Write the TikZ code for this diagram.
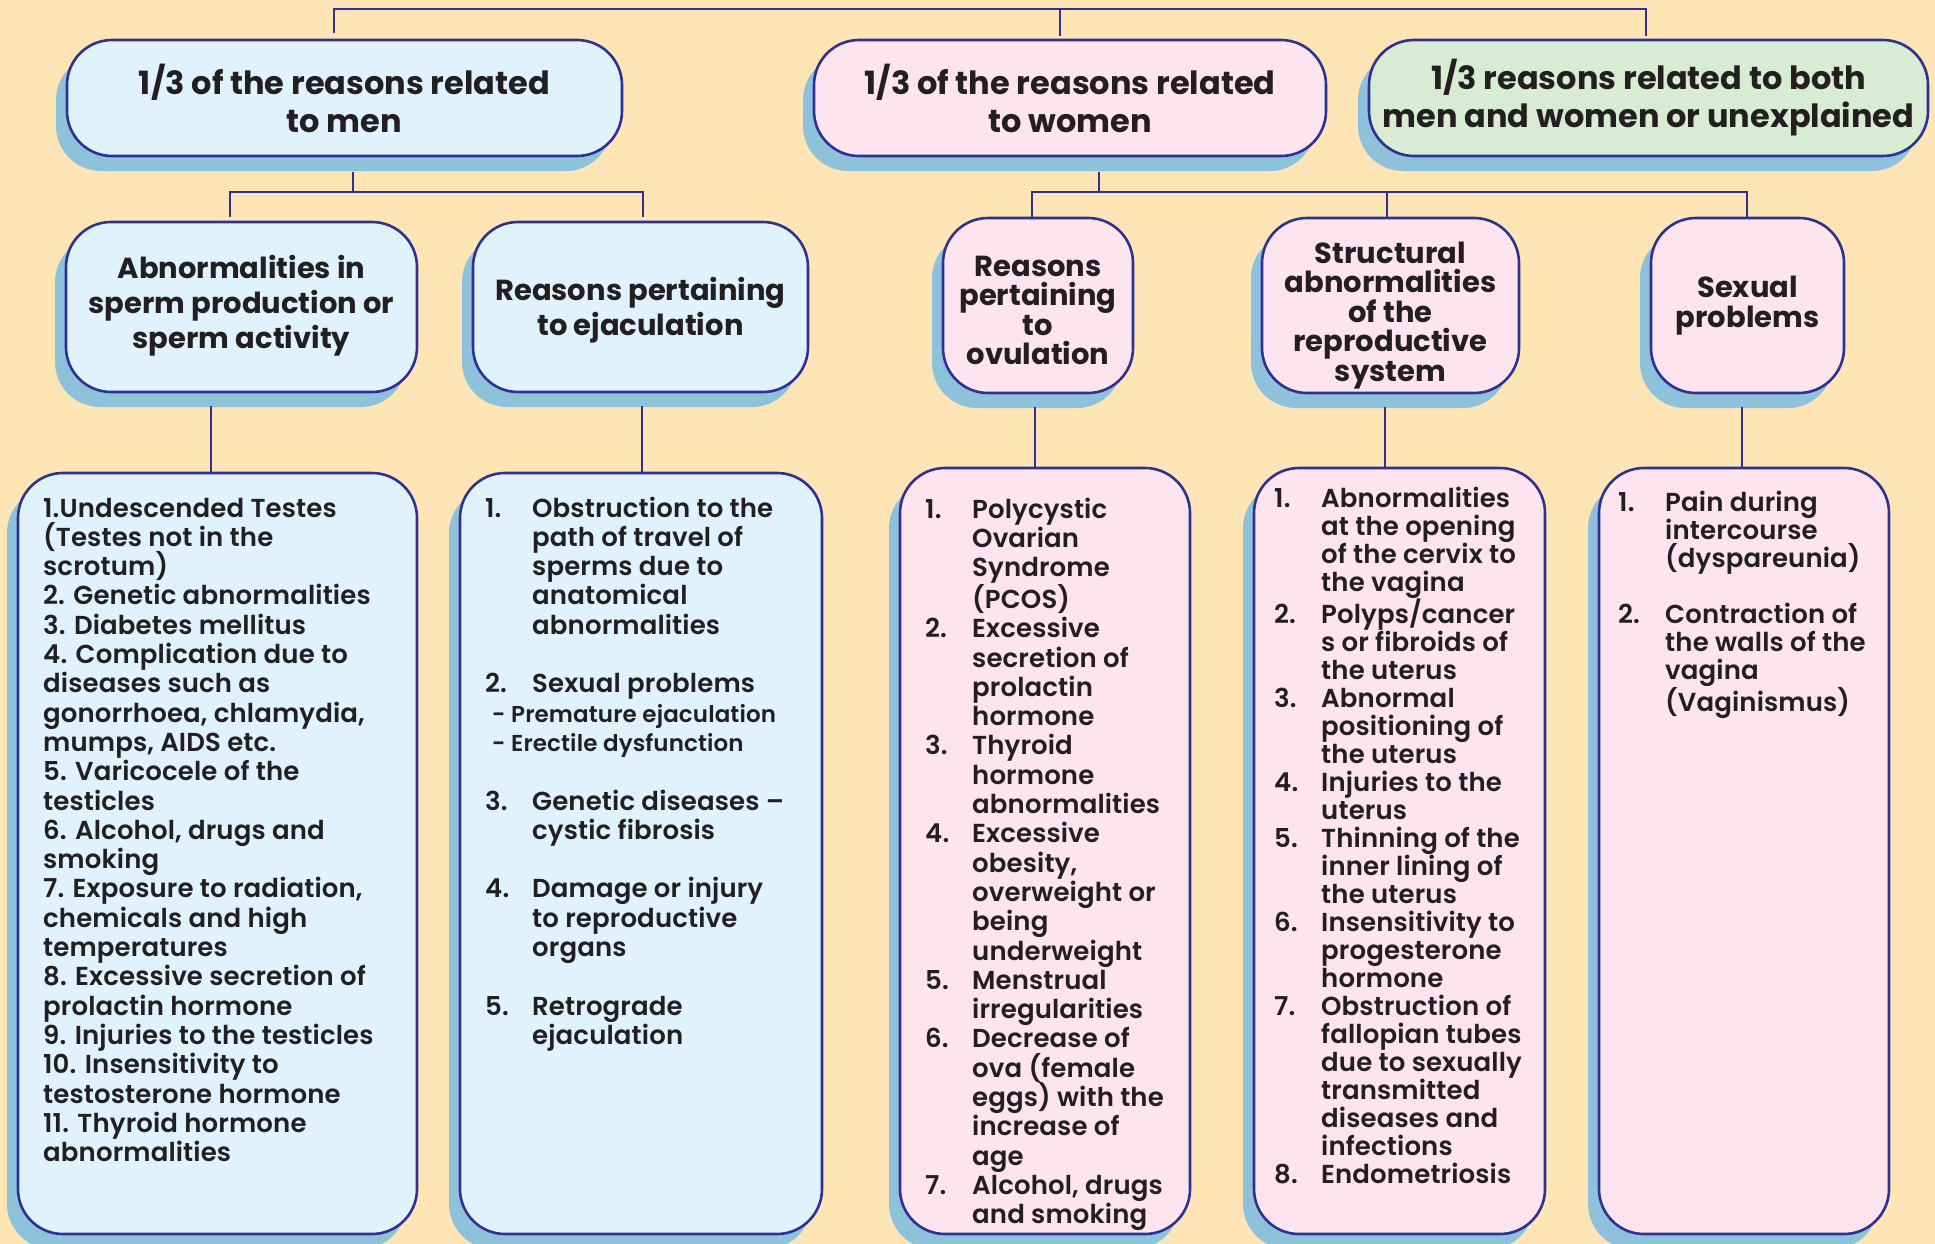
\documentclass[tikz,border=0pt]{standalone}
\usepackage{fontspec}
\setmainfont{Poppins}
\IfFontExistsTF{Poppins SemiBold}
  {\newfontfamily\bodyfont{Poppins SemiBold}[LetterSpace=0.5]}
  {\IfFontExistsTF{Poppins Medium}
    {\newfontfamily\bodyfont{Poppins Medium}[LetterSpace=2,FakeBold=0.8]}
    {\newfontfamily\bodyfont{Poppins}[FakeBold=1.5,LetterSpace=2]}}
\usetikzlibrary{shadows}
\definecolor{bgc}{HTML}{FFE4B5}
\definecolor{bluef}{HTML}{E0F3FD}
\definecolor{pinkf}{HTML}{FDE4EF}
\definecolor{greenf}{HTML}{D8ECD4}
\definecolor{navy}{HTML}{2E3192}
\definecolor{shadowc}{HTML}{8EC1DA}
\definecolor{ink}{HTML}{231F20}
\newlength\numw
\setlength\numw{47pt}
\newcommand\nitem[2]{\makebox[\numw][l]{#1}#2}
\newcommand\ncont[1]{\hspace*{\numw}#1}
\tikzset{
  box/.style={draw=navy, line width=2.6pt, rounded corners=45pt, inner sep=0pt,
    align=center, text=ink,
    drop shadow={shadow xshift=-11pt, shadow yshift=-15pt, fill=shadowc, opacity=1}},
  topbox/.style={box, minimum height=116pt, font=\bfseries\fontsize{32}{38}\selectfont},
  midbox/.style={box, minimum height=170pt},
  midboxw/.style={box, minimum height=175pt},
  hdr/.style={inner sep=0pt, align=center, text=ink, font=\bfseries\fontsize{29}{35}\selectfont},
  hdrw/.style={inner sep=0pt, align=center, text=ink, font=\bfseries\fontsize{29}{29.5}\selectfont},
  listbox/.style={box},
  conn/.style={draw=navy, line width=2.6pt},
  listtext/.style={anchor=base west, inner sep=0pt, text=ink}
}
\begin{document}
\begin{tikzpicture}[x=1pt,y=-1pt]
\useasboundingbox (0,0) rectangle (1935,1244);
\clip (0,0) rectangle (1935,1244);
\fill[bgc] (0,0) rectangle (1935,1244);

% level 1
\node[topbox, fill=bluef, minimum width=555pt] (men) at (344.5,98) {1/3 of the reasons related\\to men};
\node[topbox, fill=pinkf, minimum width=512pt] (women) at (1070,98) {1/3 of the reasons related\\to women};
\node[topbox, fill=greenf, minimum width=559pt] (both) at (1648.5,98) {1/3 reasons related to both\\men and women or unexplained};

% level 2
\node[midbox, fill=bluef, minimum width=351pt] (abn) at (241.5,307) {};
\node[midbox, fill=bluef, minimum width=335pt] (ejac) at (640.5,307) {};
\node[midboxw, fill=pinkf, minimum width=190pt] (ovu) at (1038,305.5) {};
\node[midboxw, fill=pinkf, minimum width=257pt] (struct) at (1390.5,305.5) {};
\node[midboxw, fill=pinkf, minimum width=193pt] (sex) at (1747.5,305.5) {};
\node[hdr] (abnT) at (241.5,305.6) {Abnormalities in\\sperm production or\\sperm activity};
\node[hdr] (ejacT) at (640.5,310) {Reasons pertaining\\to ejaculation};
\node[hdrw] (ovuT) at (1038,310.4) {Reasons\\pertaining\\to\\ovulation};
\node[hdrw] (structT) at (1390.5,315.5) {Structural\\abnormalities\\of the\\reproductive\\system};
\node[hdrw] (sexT) at (1747.5,305.5) {Sexual\\problems};

% level 3 boxes
\node[listbox, fill=bluef, minimum width=399pt, minimum height=761pt] (b1) at (217.5,853.5) {};
\node[listbox, fill=bluef, minimum width=362pt, minimum height=761pt] (b2) at (641,853.5) {};
\node[listbox, fill=pinkf, minimum width=290pt, minimum height=766pt] (b3) at (1045,851) {};
\node[listbox, fill=pinkf, minimum width=291pt, minimum height=766pt] (b4) at (1399.5,851) {};
\node[listbox, fill=pinkf, minimum width=290pt, minimum height=766pt] (b5) at (1744,851) {};

% connectors
\coordinate (topbus) at (1060,9);
\draw[conn] ([xshift=-10.5pt,yshift=6pt]men.north) |- (topbus) -| ([xshift=-2.5pt,yshift=3pt]both.north);
\draw[conn] ([xshift=-10pt,yshift=3pt]women.north) -- ([xshift=-10pt]women.north |- topbus);

\coordinate (menbus) at (436.5,192);
\draw[conn] ([xshift=8.5pt,yshift=-15pt]men.south) -- ([xshift=8.5pt]men.south |- menbus);
\draw[conn] ([xshift=-11.5pt,yshift=4pt]abn.north) |- (menbus) -| ([xshift=2.5pt,yshift=4pt]ejac.north);

\coordinate (wombus) at (1387,192);
\draw[conn] ([xshift=29pt,yshift=-15pt]women.south) -- ([xshift=29pt]women.south |- wombus);
\draw[conn] ([xshift=-6pt]ovu.north) |- (wombus) -| ([xshift=-0.5pt]sex.north);
\draw[conn] ([xshift=-3.5pt]struct.north) -- ([xshift=-3.5pt]struct.north |- wombus);

\draw[conn] ([xshift=-30.5pt,yshift=-13pt]abn.south) -- ([xshift=-30.5pt]abn.south |- b1.north);
\draw[conn] ([xshift=1.5pt,yshift=-13pt]ejac.south) -- ([xshift=1.5pt]ejac.south |- b2.north);
\draw[conn] ([xshift=-3pt,yshift=-13pt]ovu.south) -- ([xshift=-3pt]ovu.south |- b3.north);
\draw[conn] ([xshift=-5.5pt,yshift=-13pt]struct.south) -- ([xshift=-5.5pt]struct.south |- b4.north);
\draw[conn] ([xshift=-5.5pt,yshift=-13pt]sex.south) -- ([xshift=-5.5pt]sex.south |- b5.north);

% list texts
\node[listtext] (t1) at (43,517) {\parbox[t]{420pt}{\bodyfont\fontsize{26}{29.3}\selectfont\raggedright
1.Undescended Testes\\
(Testes not in the\\
scrotum)\\
2. Genetic abnormalities\\
3. Diabetes mellitus\\
4. Complication due to\\
diseases such as\\
gonorrhoea, chlamydia,\\
mumps, AIDS etc.\\
5. Varicocele of the\\
testicles\\
6. Alcohol, drugs and\\
smoking\\
7. Exposure to radiation,\\
chemicals and high\\
temperatures\\
8. Excessive secretion of\\
prolactin hormone\\
9. Injuries to the testicles\\
10. Insensitivity to\\
testosterone hormone\\
11. Thyroid hormone\\
abnormalities}};

\node[listtext] (t2) at (485,517) {\parbox[t]{400pt}{\bodyfont\fontsize{26}{29.3}\selectfont\raggedright
\nitem{1.}{Obstruction to the}\\
\ncont{path of travel of}\\
\ncont{sperms due to}\\
\ncont{anatomical}\\
\ncont{abnormalities}\\
\mbox{}\\
\nitem{2.}{Sexual problems}\\
{\fontsize{23}{29.3}\selectfont\hspace*{7pt}- Premature ejaculation}\\
{\fontsize{23}{29.3}\selectfont\hspace*{7pt}- Erectile dysfunction}\\
\mbox{}\\
\nitem{3.}{Genetic diseases –}\\
\ncont{cystic fibrosis}\\
\mbox{}\\
\nitem{4.}{Damage or injury}\\
\ncont{to reproductive}\\
\ncont{organs}\\
\mbox{}\\
\nitem{5.}{Retrograde}\\
\ncont{ejaculation}}};

\node[listtext] (t3) at (925,518) {\parbox[t]{400pt}{\bodyfont\fontsize{26}{29.3}\selectfont\raggedright
\nitem{1.}{Polycystic}\\
\ncont{Ovarian}\\
\ncont{Syndrome}\\
\ncont{(PCOS)}\\
\nitem{2.}{Excessive}\\
\ncont{secretion of}\\
\ncont{prolactin}\\
\ncont{hormone}\\
\nitem{3.}{Thyroid}\\
\ncont{hormone}\\
\ncont{abnormalities}\\
\nitem{4.}{Excessive}\\
\ncont{obesity,}\\
\ncont{overweight or}\\
\ncont{being}\\
\ncont{underweight}\\
\nitem{5.}{Menstrual}\\
\ncont{irregularities}\\
\nitem{6.}{Decrease of}\\
\ncont{ova (female}\\
\ncont{eggs) with the}\\
\ncont{increase of}\\
\ncont{age}\\
\nitem{7.}{Alcohol, drugs}\\
\ncont{and smoking}}};

\node[listtext] (t4) at (1274,507) {\parbox[t]{400pt}{\bodyfont\fontsize{26}{28}\selectfont\raggedright
\nitem{1.}{Abnormalities}\\
\ncont{at the opening}\\
\ncont{of the cervix to}\\
\ncont{the vagina}\\
\nitem{2.}{Polyps/cancer}\\
\ncont{s or fibroids of}\\
\ncont{the uterus}\\
\nitem{3.}{Abnormal}\\
\ncont{positioning of}\\
\ncont{the uterus}\\
\nitem{4.}{Injuries to the}\\
\ncont{uterus}\\
\nitem{5.}{Thinning of the}\\
\ncont{inner lining of}\\
\ncont{the uterus}\\
\nitem{6.}{Insensitivity to}\\
\ncont{progesterone}\\
\ncont{hormone}\\
\nitem{7.}{Obstruction of}\\
\ncont{fallopian tubes}\\
\ncont{due to sexually}\\
\ncont{transmitted}\\
\ncont{diseases and}\\
\ncont{infections}\\
\nitem{8.}{Endometriosis}}};

\node[listtext] (t5) at (1618,511) {\parbox[t]{400pt}{\bodyfont\fontsize{26}{28}\selectfont\raggedright
\nitem{1.}{Pain during}\\
\ncont{intercourse}\\
\ncont{(dyspareunia)}\\
\mbox{}\\
\nitem{2.}{Contraction of}\\
\ncont{the walls of the}\\
\ncont{vagina}\\
\ncont{(Vaginismus)}}};
\end{tikzpicture}
\end{document}
